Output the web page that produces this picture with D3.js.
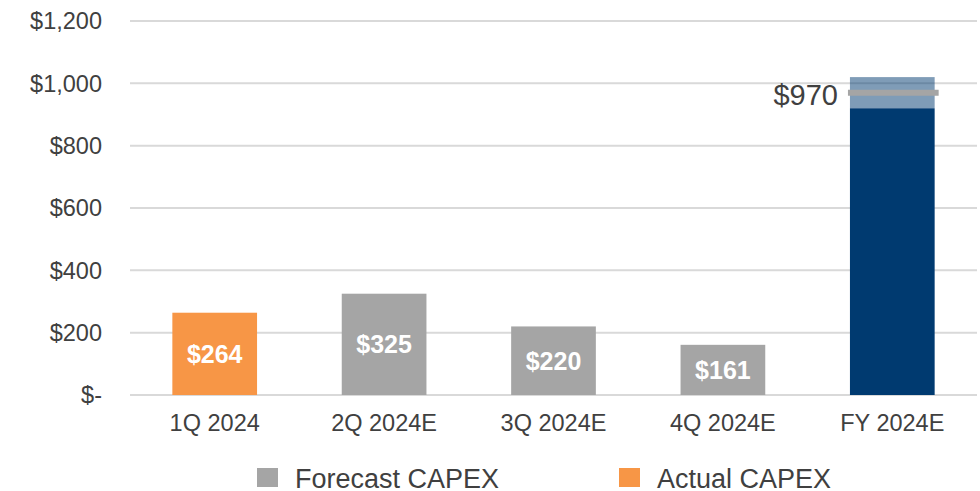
<!DOCTYPE html>
<html>
<head>
<meta charset="utf-8">
<script src="https://cdn.jsdelivr.net/npm/d3@7"></script>
<style>
  body { margin: 0; background: #fff; }
  svg { font-family: "Liberation Sans", Arial, sans-serif; }
</style>
</head>
<body>
<div id="chart"></div>
<script>
// chart values
var categories = ["1Q 2024", "2Q 2024E", "3Q 2024E", "4Q 2024E", "FY 2024E"];
var quarterValues = [264, 325, 220, 161];
var quarterTypes = ["Actual", "Forecast", "Forecast", "Forecast"];
var fyBase = 920;       // solid part of full-year bar
var fyHigh = 1020;      // top of full-year range band
var fyMarker = 970;     // midpoint marker
var yTicks = [0, 200, 400, 600, 800, 1000, 1200];
var legendItems = ["Forecast CAPEX", "Actual CAPEX"];

var colors = { Forecast: "#a5a5a5", Actual: "#f79646" };
var navy = "#003a70";

var width = 980, height = 491;
var svg = d3.select("#chart").append("svg")
  .attr("width", width)
  .attr("height", height);

var x = d3.scaleBand().domain(categories).range([130, 977]).paddingInner(0.5).paddingOuter(0.25);
var y = d3.scaleLinear().domain([0, 1200]).range([395, 21]);

// gridlines
svg.append("g").selectAll("line")
  .data(yTicks)
  .enter().append("line")
  .attr("x1", 130).attr("x2", 977)
  .attr("y1", function (d) { return y(d); })
  .attr("y2", function (d) { return y(d); })
  .attr("stroke", "#d9d9d9")
  .attr("stroke-width", 2);

// y tick labels
svg.append("g").selectAll("text")
  .data(yTicks)
  .enter().append("text")
  .attr("x", 102)
  .attr("y", function (d) { return y(d); })
  .attr("dy", "0.35em")
  .attr("text-anchor", "end")
  .attr("fill", "#404040")
  .style("font-size", "23.5px")
  .text(function (d) { return d === 0 ? "$-" : "$" + d3.format(",")(d); });

// quarter bars
var quarters = quarterValues.map(function (v, i) {
  return { cat: categories[i], value: v, type: quarterTypes[i] };
});

svg.append("g").selectAll("rect")
  .data(quarters)
  .enter().append("rect")
  .attr("x", function (d) { return x(d.cat); })
  .attr("y", function (d) { return y(d.value); })
  .attr("width", x.bandwidth())
  .attr("height", function (d) { return y(0) - y(d.value); })
  .attr("fill", function (d) { return colors[d.type]; });

svg.append("g").selectAll("text")
  .data(quarters)
  .enter().append("text")
  .attr("x", function (d) { return x(d.cat) + x.bandwidth() / 2; })
  .attr("y", function (d) { return (y(d.value) + y(0)) / 2; })
  .attr("dy", "0.36em")
  .attr("text-anchor", "middle")
  .attr("fill", "#fff")
  .style("font-size", "25px")
  .style("font-weight", "bold")
  .text(function (d) { return "$" + d.value; });

// full-year bar: solid base + translucent range band + marker
var fyX = x(categories[4]);
svg.append("rect")
  .attr("x", fyX).attr("y", y(fyBase))
  .attr("width", x.bandwidth())
  .attr("height", y(0) - y(fyBase))
  .attr("fill", navy);
svg.append("rect")
  .attr("x", fyX).attr("y", y(fyHigh))
  .attr("width", x.bandwidth())
  .attr("height", y(fyBase) - y(fyHigh))
  .attr("fill", navy)
  .attr("fill-opacity", 0.5);
svg.append("line")
  .attr("x1", fyX - 2).attr("x2", fyX + x.bandwidth() + 4)
  .attr("y1", y(fyMarker)).attr("y2", y(fyMarker))
  .attr("stroke", "#a5a5a5")
  .attr("stroke-width", 6);
svg.append("text")
  .attr("x", fyX - 12)
  .attr("y", y(fyMarker) + 2)
  .attr("dy", "0.35em")
  .attr("text-anchor", "end")
  .attr("fill", "#404040")
  .style("font-size", "29px")
  .text("$" + fyMarker);

// x labels
svg.append("g").selectAll("text")
  .data(categories)
  .enter().append("text")
  .attr("x", function (d) { return x(d) + x.bandwidth() / 2; })
  .attr("y", 423)
  .attr("dy", "0.35em")
  .attr("text-anchor", "middle")
  .attr("fill", "#404040")
  .style("font-size", "23.5px")
  .text(function (d) { return d; });

// legend
var legendX = [257, 619];
var legend = svg.append("g").selectAll("g")
  .data(legendItems)
  .enter().append("g")
  .attr("transform", function (d, i) { return "translate(" + legendX[i] + ",468)"; });
legend.append("rect")
  .attr("width", 21).attr("height", 19)
  .attr("fill", function (d) { return colors[d.split(" ")[0]]; });
legend.append("text")
  .attr("x", 38).attr("y", 10)
  .attr("dy", "0.36em")
  .attr("fill", "#404040")
  .style("font-size", "27px")
  .text(function (d) { return d; });
</script>
</body>
</html>
